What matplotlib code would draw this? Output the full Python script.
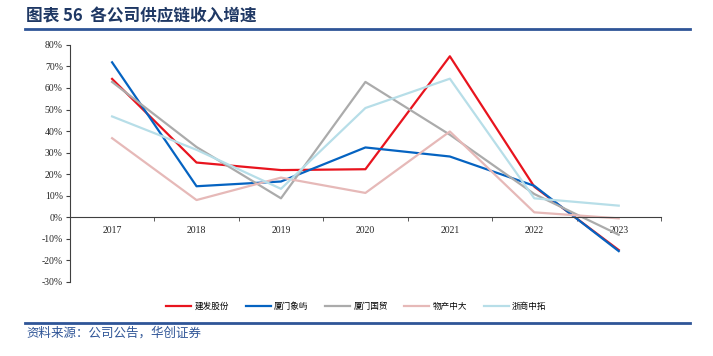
import matplotlib.pyplot as plt
from matplotlib.lines import Line2D
from matplotlib.ticker import FixedLocator

plt.rcParams['font.family'] = ['Noto Sans CJK SC', 'DejaVu Sans']

years = ["2017", "2018", "2019", "2020", "2021", "2022", "2023"]
jianfa = [64.2, 25.4, 21.9, 22.3, 74.7, 14.2, -15.2]
xiangyu = [71.9, 14.4, 16.6, 32.4, 28.2, 14.6, -15.7]
guomao = [62.8, 32.6, 8.8, 62.8, 38.3, 10.8, -8.1]
wuchan = [36.7, 8.0, 18.4, 11.3, 39.8, 2.3, -0.5]
zheshang = [46.8, 31.3, 13.2, 50.7, 64.3, 8.8, 5.4]

series = [("建发股份", jianfa, "#E8141E"),
          ("厦门象屿", xiangyu, "#0563C1"),
          ("厦门国贸", guomao, "#ABABAB"),
          ("物产中大", wuchan, "#E6B9B8"),
          ("浙商中拓", zheshang, "#B7DEE8")]

fig = plt.figure(figsize=(7.13, 3.56), dpi=100)
ax = fig.add_axes([0.098, 0.208, 0.829, 0.666])

# spine moves first, it resets the ticks
for s in ["top", "right"]:
    ax.spines[s].set_visible(False)
ax.spines["bottom"].set_position(("data", 0))
ax.spines["bottom"].set_color("#404040")
ax.spines["left"].set_color("#404040")

x = list(range(len(years)))
for name, vals, color in series:
    ax.plot(x, vals, color=color, lw=1.6, label=name)

ax.set_xlim(-0.5, 6.5)
ax.set_ylim(-30, 80)
ax.set_yticks(range(-30, 81, 10))
ax.set_yticklabels([f"{v}%" for v in range(-30, 81, 10)])
ax.set_xticks(x)
ax.set_xticklabels(years)
ax.xaxis.set_minor_locator(FixedLocator([i + 0.5 for i in range(-1, 7)]))
ax.tick_params(axis="x", which="major", length=0, pad=6)
ax.tick_params(axis="x", which="minor", length=3, color="#404040", direction="out")
ax.tick_params(axis="y", length=3, color="#404040", pad=2)
for lbl in ax.get_xticklabels() + ax.get_yticklabels():
    lbl.set_fontfamily("Liberation Serif")
    lbl.set_fontsize(7)
    lbl.set_color("#262626")

handles = [Line2D([], [], color=c, lw=1.6) for _, _, c in series]
fig.legend(handles, [n for n, _, _ in series], loc="center", ncol=5,
           bbox_to_anchor=(0.5, 0.14), frameon=False, fontsize=6.2,
           handlelength=2.9, columnspacing=1.9, handletextpad=0.4)

# title and frame lines
fig.text(0.037, 0.955, "图表 56  各公司供应链收入增速", fontsize=12,
         fontweight="bold", color="#1F3864", va="center")
fig.add_artist(Line2D([0.035, 0.968], [0.918, 0.918], color="#2F5597", lw=2))
fig.add_artist(Line2D([0.035, 0.968], [0.093, 0.093], color="#2F5597", lw=2))
fig.text(0.037, 0.063, "资料来源：公司公告，华创证券", fontsize=9,
         color="#2F5597", va="center", style="italic")

fig.savefig("out.png", dpi=100)
